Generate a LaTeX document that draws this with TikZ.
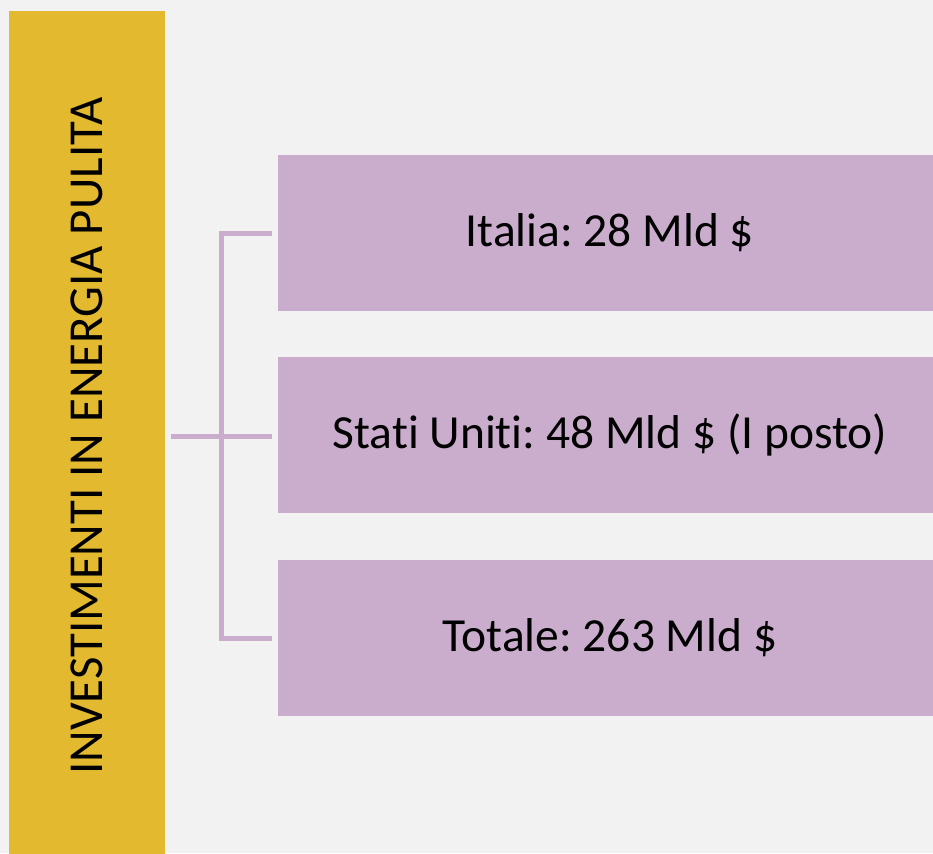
\documentclass[tikz,border=0pt]{standalone}
\usepackage{fontspec}
\setmainfont{Carlito}[Ligatures={NoCommon}]
\frenchspacing
\usetikzlibrary{calc}
\definecolor{bgray}{HTML}{F2F2F2}
\definecolor{gold}{HTML}{E2B92F}
\definecolor{lilac}{HTML}{CAADCD}
\begin{document}
\begin{tikzpicture}[x=1pt,y=-1pt,
  sidebar/.style={fill=gold, draw=none, minimum width=156pt, minimum height=850pt,
    inner sep=0pt, font=\fontsize{48.8}{50}\selectfont},
  itembox/.style={fill=lilac, draw=none, minimum width=664pt, minimum height=156pt,
    inner sep=0pt, font=\fontsize{47.5}{50}\selectfont},
  conn/.style={draw=lilac, line width=5pt}]
  % page and background
  \fill[bgray] (0,0) rectangle (933,853);
  \useasboundingbox (0,0) rectangle (933,853);
  % title bar with vertical label
  \node[sidebar] (bar) at (87,436) {\rotatebox{90}{INVESTIMENTI IN ENERGIA PULITA}};
  % figure boxes
  \node[itembox] (b1) at (610,233) {Italia: 28 Mld \$};
  \node[itembox] (b2) at (610,435) {Stati Uniti: 48 Mld \$ (I posto)};
  \node[itembox] (b3) at (610,638) {Totale: 263 Mld \$};
  % bracket joining the title to the boxes
  \coordinate (hub) at (221,436);
  \draw[conn] ([xshift=6pt]bar.east |- hub) -- ([xshift=-6pt]b2.west |- hub);
  \draw[conn] ([xshift=-6pt]b1.west) -| (hub) |- ([xshift=-6pt]b3.west);
\end{tikzpicture}
\end{document}
